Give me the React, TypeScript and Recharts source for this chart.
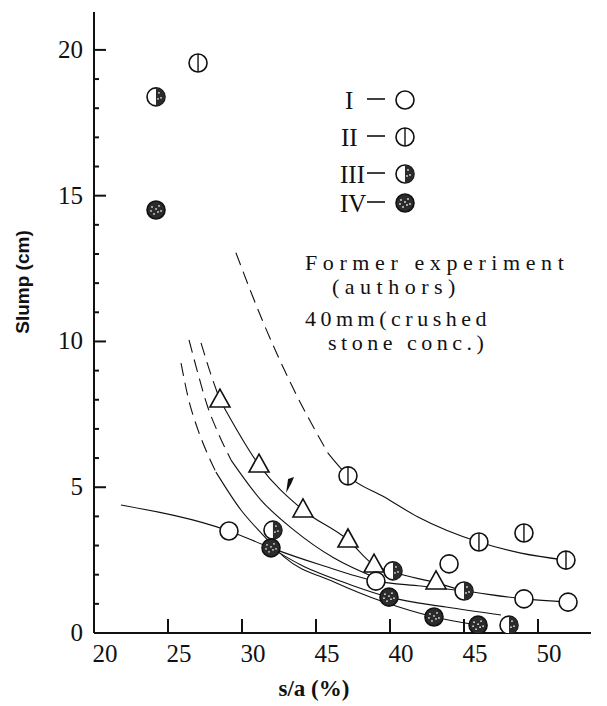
import { ComposedChart, Line, Scatter, XAxis, YAxis } from 'recharts';

// marker series (s/a %, slump cm)
const seriesI = [
  { x: 29.12, y: 3.5 }, { x: 39.05, y: 1.78 }, { x: 43.99, y: 2.37 }, { x: 49.05, y: 1.17 }, { x: 52.03, y: 1.06 }
];
const seriesII = [
  { x: 27.03, y: 19.55 }, { x: 37.16, y: 5.39 }, { x: 46.01, y: 3.12 }, { x: 49.05, y: 3.43 }, { x: 51.89, y: 2.5 }
];
const seriesIII = [
  { x: 24.19, y: 18.39 }, { x: 32.09, y: 3.53 }, { x: 40.2, y: 2.13 }, { x: 45.0, y: 1.44 }, { x: 48.04, y: 0.27 }
];
const seriesIV = [
  { x: 24.19, y: 14.51 }, { x: 31.96, y: 2.92 }, { x: 39.93, y: 1.23 }, { x: 42.97, y: 0.55 }, { x: 45.95, y: 0.27 }
];
const former = [
  { x: 28.51, y: 7.99 }, { x: 31.15, y: 5.76 }, { x: 34.12, y: 4.22 }, { x: 37.16, y: 3.19 }, { x: 38.92, y: 2.33 }, { x: 43.11, y: 1.75 }
];
const flag = [{ x: 33.18, y: 5.08 }];

// fitted curves: dashed (extrapolated) part + solid part
const curveADash = [{ x: 29.59, y: 13.04 }, { x: 31.42, y: 10.67 }, { x: 33.45, y: 8.4 }, { x: 35.81, y: 6.17 }];
const curveA = [
  { x: 35.81, y: 6.17 }, { x: 37.16, y: 5.39 }, { x: 39.59, y: 4.67 }, { x: 41.89, y: 3.98 },
  { x: 46.01, y: 3.12 }, { x: 48.85, y: 2.74 }, { x: 51.89, y: 2.5 }
];
const curveBDash = [{ x: 27.23, y: 9.95 }, { x: 27.91, y: 8.85 }, { x: 28.51, y: 7.99 }];
const curveB = [
  { x: 28.51, y: 7.99 }, { x: 31.15, y: 5.76 }, { x: 34.12, y: 4.22 }, { x: 37.16, y: 3.19 },
  { x: 38.92, y: 2.33 }, { x: 40.2, y: 2.09 }, { x: 43.11, y: 1.72 }, { x: 45.0, y: 1.44 }
];
const curveCDash = [{ x: 26.42, y: 10.05 }, { x: 26.96, y: 9.02 }, { x: 27.64, y: 7.82 }, { x: 28.45, y: 6.79 }, { x: 29.26, y: 5.93 }];
const curveC = [{ x: 29.26, y: 5.93 }, { x: 31.28, y: 4.56 }, { x: 33.51, y: 3.53 }, { x: 36.22, y: 2.57 }, { x: 39.05, y: 1.89 }];
const curveDDash = [{ x: 25.88, y: 9.26 }, { x: 26.35, y: 8.1 }, { x: 27.03, y: 6.96 }, { x: 27.7, y: 6.11 }, { x: 28.24, y: 5.52 }];
const curveD = [
  { x: 28.24, y: 5.52 }, { x: 29.93, y: 4.22 }, { x: 31.42, y: 3.36 }, { x: 32.84, y: 2.61 },
  { x: 36.22, y: 1.75 }, { x: 39.59, y: 1.06 }, { x: 42.97, y: 0.55 }, { x: 45.95, y: 0.27 }
];
const curveE = [
  { x: 21.82, y: 4.39 }, { x: 29.12, y: 3.5 }, { x: 31.96, y: 2.92 }, { x: 35.34, y: 2.33 }, { x: 39.05, y: 1.78 },
  { x: 42.09, y: 1.61 }, { x: 45.0, y: 1.44 }, { x: 49.05, y: 1.17 }, { x: 52.03, y: 1.06 }
];
const curveF = [
  { x: 31.96, y: 2.92 }, { x: 33.99, y: 2.33 }, { x: 37.36, y: 1.65 }, { x: 39.93, y: 1.23 }, { x: 43.78, y: 0.89 }, { x: 47.5, y: 0.62 }
];

const xTicks = [20, 25, 30, 35, 40, 45, 50];
const xTickLabels = ['20', '25', '30', '45', '40', '45', '50'];
const yTicks = [0, 1, 2, 3, 4, 5, 6, 7, 8, 9, 10, 11, 12, 13, 14, 15, 16, 17, 18, 19, 20];

const INK = '#111';
const SERIF = 'Liberation Serif, DejaVu Serif, serif';

const specks = (cx: number, cy: number, from: number) =>
  [[-4, -3], [3, -4], [2, 2], [-2, 4], [5, 1], [-5, 1], [0, -1]]
    .filter(([dx]) => dx >= from)
    .map(([dx, dy], i) => <circle key={i} cx={cx + dx} cy={cy + dy} r={0.9} fill="#ddd" />);

const OpenCircle = (p: any) => <circle cx={p.cx} cy={p.cy} r={9} fill="#fff" stroke={INK} strokeWidth={1.6} />;
const LineCircle = (p: any) => (
  <g>
    <circle cx={p.cx} cy={p.cy} r={9} fill="#fff" stroke={INK} strokeWidth={1.6} />
    <line x1={p.cx} y1={p.cy - 9} x2={p.cx} y2={p.cy + 9} stroke={INK} strokeWidth={1.4} />
  </g>
);
const HalfCircle = (p: any) => (
  <g>
    <circle cx={p.cx} cy={p.cy} r={9} fill="#fff" stroke={INK} strokeWidth={1.6} />
    <path d={`M${p.cx},${p.cy - 9} A9,9 0 0 1 ${p.cx},${p.cy + 9} Z`} fill="#2b2b2b" />
    {specks(p.cx, p.cy, 1)}
  </g>
);
const DotCircle = (p: any) => (
  <g>
    <circle cx={p.cx} cy={p.cy} r={9} fill="#2b2b2b" stroke={INK} strokeWidth={1.6} />
    {specks(p.cx, p.cy, -9)}
  </g>
);
const Tri = (p: any) => (
  <polygon
    points={`${p.cx},${p.cy - 11} ${p.cx - 10},${p.cy + 7} ${p.cx + 10},${p.cy + 7}`}
    fill="#fff" stroke={INK} strokeWidth={1.6} strokeLinejoin="miter"
  />
);
const Flag = (p: any) => (
  <path d={`M${p.cx - 3},${p.cy + 8} L${p.cx - 1},${p.cy - 6} L${p.cx + 5},${p.cy - 8} L${p.cx + 2},${p.cy - 1} Z`} fill={INK} />
);

const XTick = (p: any) => {
  const i = xTicks.indexOf(p.payload.value);
  return (
    <g>
      <line x1={p.x} y1={p.y} x2={p.x} y2={p.y - 14} stroke={INK} strokeWidth={2} />
      <text x={p.x + 11} y={p.y + 29} textAnchor="middle" fontFamily={SERIF} fontSize={25} fill={INK}>
        {xTickLabels[i]}
      </text>
    </g>
  );
};

const YTick = (p: any) => {
  const v = p.payload.value;
  const major = v % 5 === 0;
  return (
    <g>
      <line x1={p.x} y1={p.y} x2={p.x + (major ? 12 : 5)} y2={p.y} stroke={INK} strokeWidth={2} />
      {major && (
        <text x={p.x - 11} y={p.y + 8} textAnchor="end" fontFamily={SERIF} fontSize={25} fill={INK}>
          {v}
        </text>
      )}
    </g>
  );
};

const curve = (data: any[], dashed: boolean, key: string) => (
  <Line
    key={key}
    data={data}
    dataKey="y"
    type="monotone"
    stroke={INK}
    strokeWidth={1.1}
    strokeDasharray={dashed ? '13 7' : undefined}
    dot={false}
    activeDot={false}
    isAnimationActive={false}
  />
);

const legendRows = [
  { label: 'I', y: 100, x: 345, shape: OpenCircle },
  { label: 'II', y: 137, x: 341, shape: LineCircle },
  { label: 'III', y: 174, x: 340, shape: HalfCircle },
  { label: 'IV', y: 203, x: 340, shape: DotCircle }
];

export default function App() {
  return (
    <div style={{ position: 'absolute', left: 0, top: 0, width: 607, height: 706, background: '#fff' }}>
      <ComposedChart width={607} height={706} margin={{ top: 12, right: 16, left: 34, bottom: 23 }}>
        <XAxis
          type="number"
          dataKey="x"
          domain={[20, 53.58]}
          allowDataOverflow
          ticks={xTicks}
          tick={<XTick />}
          tickLine={false}
          tickSize={0}
          tickMargin={0}
          height={50}
          axisLine={{ stroke: INK, strokeWidth: 2 }}
        />
        <YAxis
          type="number"
          dataKey="y"
          domain={[0, 21.3]}
          allowDataOverflow
          ticks={yTicks}
          interval={0}
          tick={<YTick />}
          tickLine={false}
          tickSize={0}
          tickMargin={0}
          width={60}
          axisLine={{ stroke: INK, strokeWidth: 2 }}
        />
        {curve(curveADash, true, 'ad')}
        {curve(curveA, false, 'a')}
        {curve(curveBDash, true, 'bd')}
        {curve(curveB, false, 'b')}
        {curve(curveCDash, true, 'cd')}
        {curve(curveC, false, 'c')}
        {curve(curveDDash, true, 'dd')}
        {curve(curveD, false, 'd')}
        {curve(curveE, false, 'e')}
        {curve(curveF, false, 'f')}
        <Scatter data={former} shape={<Tri />} isAnimationActive={false} />
        <Scatter data={flag} shape={<Flag />} isAnimationActive={false} />
        <Scatter data={seriesI} shape={<OpenCircle />} isAnimationActive={false} />
        <Scatter data={seriesII} shape={<LineCircle />} isAnimationActive={false} />
        <Scatter data={seriesIII} shape={<HalfCircle />} isAnimationActive={false} />
        <Scatter data={seriesIV} shape={<DotCircle />} isAnimationActive={false} />
      </ComposedChart>
      <svg width={607} height={706} style={{ position: 'absolute', left: 0, top: 0, pointerEvents: 'none' }}>
        {legendRows.map(r => {
          const S = r.shape;
          return (
            <g key={r.label}>
              <text x={r.x} y={r.y + 9} fontFamily={SERIF} fontSize={25} fill={INK}>{r.label}</text>
              <line x1={367} y1={r.y - 1} x2={385} y2={r.y - 1} stroke={INK} strokeWidth={1.6} />
              <S cx={405} cy={r.y} />
            </g>
          );
        })}
        <g fontFamily={SERIF} fontSize={22} fill={INK}>
          <text x={305} y={270} letterSpacing={5.6}>Former experiment</text>
          <text x={332} y={294} letterSpacing={5.5}>(authors)</text>
          <text x={305} y={326} letterSpacing={4.5}>40mm(crushed</text>
          <text x={328} y={350} letterSpacing={4.5}>stone conc.)</text>
        </g>
        <text
          transform="translate(29,282) rotate(-90)"
          textAnchor="middle"
          fontFamily="Liberation Sans, Arial, sans-serif"
          fontWeight="bold"
          fontSize={19}
          fill={INK}
        >
          Slump (cm)
        </text>
        <text x={314} y={696} textAnchor="middle" fontFamily={SERIF} fontWeight="bold" fontSize={23} fill={INK}>
          s/a (%)
        </text>
      </svg>
    </div>
  );
}
